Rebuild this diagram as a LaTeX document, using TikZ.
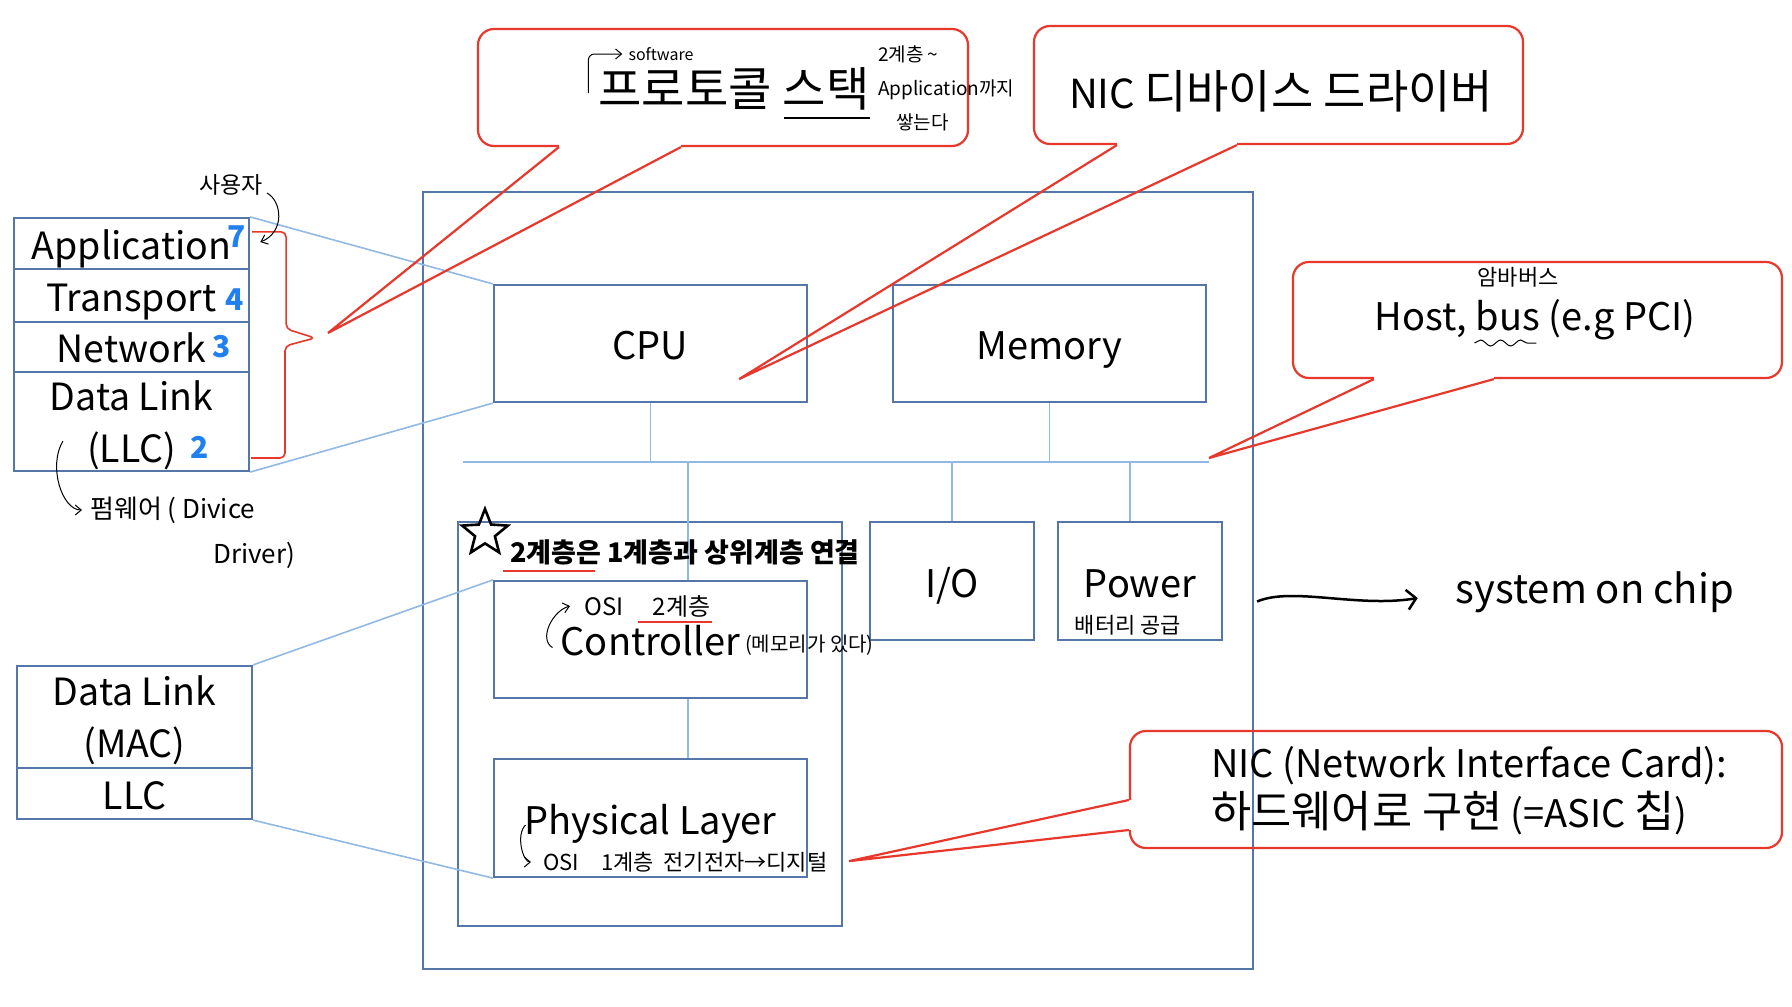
\documentclass[tikz,border=0pt]{standalone}
\usepackage{fontspec}
\setmainfont{Noto Sans CJK KR}
\newfontfamily\ko{Noto Sans CJK KR}[Scale=1.15]
\usepackage{xcolor}
\usepackage{tikz}
\usetikzlibrary{positioning,arrows.meta,calc,shapes.geometric,decorations.pathmorphing}
\definecolor{boxblue}{RGB}{84,118,168}
\definecolor{linkblue}{RGB}{146,184,228}
\definecolor{callred}{RGB}{232,56,44}
\definecolor{numblue}{RGB}{33,128,240}
\newcommand{\fs}[1]{\fontsize{#1}{#1}\selectfont}

\begin{document}
\begin{tikzpicture}[x=1pt, y=-1pt, >={Straight Barb[length=6pt,width=10pt]},
  blk/.style={draw=boxblue, line width=2.2pt, inner sep=0pt, text height=32pt, text depth=0pt, font=\fs{38}},
  layer/.style={draw=boxblue, line width=2.2pt, minimum width=235, inner sep=0pt, align=center, font=\fontsize{37.5}{52}\selectfont},
  callout/.style={draw=callred, line width=2.2pt, rounded corners=16pt},
  hand/.style={inner sep=0pt, font=\fs{20}},
  num/.style={inner sep=0pt, text=numblue, font=\fs{30}\bfseries},
  link/.style={linkblue, line width=1.6pt}]
\useasboundingbox (0,0) rectangle (1792,1007);
\newcommand{\calltail}[4]{\fill[white] ($(#1)+#4$) -- ($(#1)-#4$) -- ($(#2)-#4$) -- ($(#2)+#4$) -- cycle;
  \draw[callred, line width=2.2pt] (#1) -- (#3) -- (#2);}

\node[blk, minimum width=830, minimum height=777] (chip) at (838,580.5) {};
\node[blk, minimum width=384, minimum height=404] (nic) at (650,724) {};
\foreach \n/\x/\y/\w/\h/\t in {cpu/650.5/343.5/313/117/CPU, mem/1049.5/343.5/313/117/Memory,
    ctrl/650.5/639.5/313/117/Controller, phy/650.5/818/313/118/Physical Layer,
    io/952/581/164/118/{I/O}, pwr/1140/581/164/118/Power}
  \node[blk, minimum width=\w, minimum height=\h] (\n) at (\x,\y) {\t};

\coordinate (busL) at (463,462);
\coordinate (busR) at (1209,462);
\coordinate (tap) at (688,462);
\coordinate (ptap) at (1130,462);
\draw[link] (busL) -- (busR);
\foreach \a in {cpu.south, mem.south, io.north}
  \draw[link] (\a) -- (\a |- busL);
\draw[link] (tap) -- (tap |- ctrl.north);
\draw[link] (ctrl.south -| tap) -- (phy.north -| tap);
\draw[link] (ptap) -- (ptap |- pwr.north);

\node[layer, minimum height=51, text height=31pt, text depth=0pt] (app) at (131.5,243.5) {Application};
\node[layer, minimum height=53, text height=31pt, text depth=0pt] (trans) at (131.5,295.5) {Transport};
\node[layer, minimum height=50, text height=31pt, text depth=0pt] (net) at (131.5,347) {Network};
\node[layer, minimum height=99] (dl) at (131.5,421.5) {\rule{0pt}{37pt}Data Link\\(LLC)};
\node[layer, minimum height=102] (mac) at (134.5,717) {\rule{0pt}{37pt}Data Link\\(MAC)};
\node[layer, minimum height=51, text height=31pt, text depth=0pt] (llc) at (134.5,793.5) {LLC};
\draw[link] (app.north east) -- (cpu.north west);
\draw[link] (dl.south east) -- (cpu.south west);
\draw[link] (mac.north east) -- (ctrl.north west);
\draw[link] (llc.south east) -- (phy.south west);

\foreach \n/\x/\y/\t in {n7/237/237/7, n4/235/300/4, n3/222/347/3, n2/200/447/2}
  \node[num] (\n) at (\x,\y) {\t};

\coordinate (brtip) at (315,338);
\draw[callred, line width=1.6pt, rounded corners=5pt] ($(app.north east)+(2,15)$) -- ++(34,0) -- ++(0,97)
  -- (brtip) -- ++(-30,8) -- ++(0,112) -- ++(-34,0);

\node[callout, minimum width=490, minimum height=117] (proto) at (723,87.5) {};
\node[callout, minimum width=489, minimum height=118] (drv) at (1278.5,85) {};
\node[callout, minimum width=489, minimum height=116] (host) at (1537.5,320) {};
\node[callout, minimum width=652, minimum height=117] (nicc) at (1456,789.5) {};

\coordinate (pb1) at ($(proto.south west)+(82,0)$);
\coordinate (pb2) at ($(proto.south west)+(204,0)$);
\coordinate (ptip) at ($(brtip)+(13,-5)$);
\coordinate (db1) at ($(drv.south west)+(84,0)$);
\coordinate (db2) at ($(drv.south west)+(204,0)$);
\coordinate (dtip) at ($(cpu.south east)+(-69,-24)$);
\coordinate (hb1) at ($(host.south west)+(82,0)$);
\coordinate (hb2) at ($(host.south west)+(202,0)$);
\coordinate (htip) at ($(busR)+(0,-4)$);
\coordinate (nb1) at ($(nicc.west)+(0,10.5)$);
\coordinate (nb2) at ($(nicc.west)+(0,40.5)$);
\coordinate (ntip) at ($(phy.south east)+(41,-17)$);
\calltail{pb1}{pb2}{ptip}{(0,3)}
\calltail{db1}{db2}{dtip}{(0,3)}
\calltail{hb1}{hb2}{htip}{(0,3)}
\calltail{nb1}{nb2}{ntip}{(3,0)}

\node[font=\fs{41}, inner sep=0pt] (ptext) at (734,89) {\ko 프로토콜 스택};
\draw[line width=1.2pt] ($(ptext.east)+(-86,29)$) -- ++(86,0);
\node[hand, font=\fs{16}] (sw) at (661,54) {software};
\draw[->, line width=1pt, rounded corners=6pt] ($(ptext.west)+(-10,4)$) |- ([xshift=-6]sw.west);
\node[hand, align=left, anchor=west, font=\fontsize{19}{34}\selectfont] (stk) at (878,88) {2계층 \textasciitilde\\Application까지\\\hspace*{18pt}쌓는다};

\node[font=\fs{40}, inner sep=0pt] (dtext) at (1281,91) {NIC {\ko 디바이스 드라이버}};

\node[font=\fs{38}, inner sep=0pt] (htext) at (1535,320) {Host, bus (e.g PCI)};
\node[hand, font=\fs{22}] (amba) at (1518,277) {암바버스};
\draw[decorate, decoration={snake, amplitude=3pt, segment length=20pt}, line width=1pt] ($(htext.west)+(100,23)$) -- ++(62,0);

\node[font=\fontsize{38}{50}\selectfont, align=left, inner sep=0pt, anchor=west] (ntext) at (1211,791) {NIC (Network Interface Card):\\{\ko 하드웨어로 구현} (=ASIC {\ko 칩})};

\node[hand, font=\fs{23}] (user) at (231,185) {사용자};
\draw[->, line width=1pt] ($(user.east)+(4,8)$) .. controls +(15,8) and +(25,-10) .. ($(n7.east)+(14,5)$);
\node[hand, font=\fs{26}, anchor=west] (fw1) at (90,510) {펌웨어 ( Divice};
\node[hand, font=\fs{26}, anchor=west] (fw2) at (213,555) {Driver)};
\draw[->, line width=1pt] ($(dl.south west)+(50,-31)$) .. controls +(-15,25) and +(-20,0) .. ([xshift=-8]fw1.west);

\node[star, star points=5, star point ratio=2.3, draw, line width=2.6pt, minimum size=48, inner sep=0pt] (star) at (485,533) {};
\node[hand, font=\fs{27}\bfseries, anchor=west] (note) at (510,552) {2계층은 1계층과 상위계층 연결};
\draw[callred, line width=1.5pt] ($(note.west)+(-7,19)$) -- ++(92,0);
\node[hand, font=\fs{24}, anchor=west] (osi2) at (584,606) {OSI\quad\ 2계층};
\draw[callred, line width=1.5pt] ($(osi2.east)+(-72,16)$) -- ++(74,0);
\draw[->, line width=1pt] ($(ctrl.center)+(-98,8)$) .. controls +(-14,-8) and +(-18,5) .. ([xshift=-14]osi2.west);
\node[hand, font=\fs{20}, anchor=west] (memo) at (745,645) {(메모리가 있다)};
\node[hand, font=\fs{22}, anchor=west] (osi1) at (543,862) {OSI\quad 1계층\ \ 전기전자→디지털};
\draw[->, line width=1pt] ($(phy.center)+(-125,7)$) .. controls +(-10,10) and +(-8,0) .. ([xshift=-12]osi1.west);
\node[hand, font=\fs{22}] (batt) at (1128,625) {배터리 공급};

\node[font=\fs{40}, inner sep=0pt] (soctxt) at (1595,592) {system on chip};
\draw[->, >={Straight Barb[length=9pt,width=20pt]}, line width=2.5pt] ($(chip.east)+(3,21)$) .. controls +(35,-15) and +(-60,10) .. ($(soctxt.west)+(-38,6)$);
\end{tikzpicture}
\end{document}
